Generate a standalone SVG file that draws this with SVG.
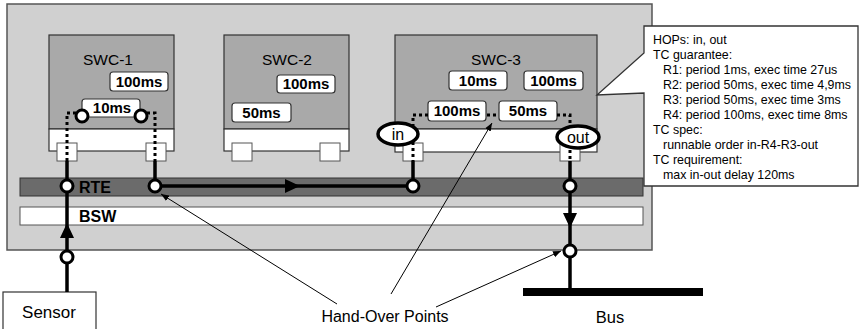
<svg xmlns="http://www.w3.org/2000/svg" width="859" height="329" viewBox="0 0 859 329">
<defs>
<style>
.t{font-family:"Liberation Sans",Arial,sans-serif;fill:#000}
.swc{fill:#a9a9a9;stroke:#333;stroke-width:1.2}
.wh{fill:#fff;stroke:#333;stroke-width:1.2}
.port{fill:#fff;stroke:#555;stroke-width:1}
.rn{fill:#fff;stroke:#333;stroke-width:1.2}
.rl{font-family:"Liberation Sans",Arial,sans-serif;font-weight:bold;font-size:15px;text-anchor:middle}
.dot{fill:none;stroke:#000;stroke-width:3;stroke-dasharray:3 3}
.thick{fill:none;stroke:#000;stroke-width:3.5}
.hop{fill:#fff;stroke:#000;stroke-width:3}
.thin{fill:none;stroke:#000;stroke-width:1}
.ct{font-family:"Liberation Sans",Arial,sans-serif;font-size:12.4px}
</style>
<marker id="ah" viewBox="0 0 10 10" refX="10" refY="5" markerWidth="8" markerHeight="8" orient="auto" markerUnits="userSpaceOnUse"><path d="M0,1 L10,5 L0,9 Z" fill="#000"/></marker>
</defs>
<rect width="859" height="329" fill="#fff"/>
<g id="ecu">
<rect x="7" y="4" width="645" height="246" fill="#d0d0d0" stroke="#555" stroke-width="1.5"/>
<rect x="20" y="178" width="623" height="18" fill="#6b6b6b" stroke="#333" stroke-width="1"/>
<text class="t" x="79" y="193" font-size="16" font-weight="bold">RTE</text>
<rect x="20" y="207" width="623" height="18" fill="#fff" stroke="#555" stroke-width="1"/>
<text class="t" x="79" y="222" font-size="16" font-weight="bold">BSW</text>
</g>
<g id="swc1">
<rect class="swc" x="49" y="35" width="125" height="94"/>
<rect class="wh" x="49" y="129" width="125" height="22"/>
<text class="t" x="108" y="65" font-size="15.5" text-anchor="middle">SWC-1</text>
<rect class="rn" x="110" y="72" width="58" height="19" rx="3"/>
<text class="t rl" x="139" y="87">100ms</text>
<rect class="rn" x="82" y="99" width="58" height="18" rx="3"/>
<text class="t rl" x="112" y="113">10ms</text>
<rect class="port" x="57" y="143" width="20" height="18"/>
<rect class="port" x="146" y="143" width="20" height="18"/>
<path class="dot" d="M76,113 H67 V161"/>
<path class="dot" d="M147,113 H155 V161"/>
<circle class="hop" cx="82" cy="116" r="6"/>
<circle class="hop" cx="141" cy="116" r="6"/>
</g>
<g id="swc2">
<rect class="swc" x="224" y="35" width="125" height="94"/>
<rect class="wh" x="224" y="129" width="125" height="22"/>
<text class="t" x="287" y="65" font-size="15.5" text-anchor="middle">SWC-2</text>
<rect class="rn" x="277" y="75" width="58" height="18" rx="3"/>
<text class="t rl" x="306" y="89">100ms</text>
<rect class="rn" x="232" y="103" width="59" height="19" rx="3"/>
<text class="t rl" x="261.5" y="118">50ms</text>
<rect class="port" x="232" y="143" width="20" height="18"/>
<rect class="port" x="320" y="143" width="20" height="18"/>
</g>
<g id="swc3">
<rect class="swc" x="395" y="35" width="202" height="94"/>
<rect class="wh" x="395" y="129" width="202" height="23"/>
<text class="t" x="496" y="65" font-size="15.5" text-anchor="middle">SWC-3</text>
<rect class="rn" x="449" y="71" width="58" height="19" rx="3"/>
<text class="t rl" x="478" y="86">10ms</text>
<rect class="rn" x="524" y="71" width="59" height="19" rx="3"/>
<text class="t rl" x="553.5" y="86">100ms</text>
<rect class="rn" x="428" y="101" width="58" height="20" rx="3"/>
<text class="t rl" x="457" y="116">100ms</text>
<rect class="rn" x="499" y="101" width="58" height="20" rx="3"/>
<text class="t rl" x="528" y="116">50ms</text>
<rect class="port" x="403" y="143" width="20" height="18"/>
<rect class="port" x="560" y="143" width="20" height="18"/>
<path class="dot" d="M428,115 H413 V161"/>
<path class="dot" d="M487,115 H499"/>
<path class="dot" d="M557,115 H570 V161"/>
<ellipse cx="398" cy="134" rx="20" ry="11" fill="#fff" stroke="#000" stroke-width="3.5"/>
<text class="t" x="398" y="140" font-size="16" text-anchor="middle">in</text>
<ellipse cx="578" cy="137" rx="21" ry="11" fill="#fff" stroke="#000" stroke-width="3.5"/>
<text class="t" x="578" y="143" font-size="16" text-anchor="middle">out</text>
</g>
<g id="sensor">
<rect x="3" y="292" width="93" height="40" fill="#fff" stroke="#333" stroke-width="1.2"/>
<text class="t" x="49" y="318" font-size="17" text-anchor="middle">Sensor</text>
</g>
<g id="bus">
<rect x="523" y="288" width="180" height="8" fill="#000"/>
<text class="t" x="610" y="323" font-size="16.5" text-anchor="middle">Bus</text>
</g>
<g id="callout">
<path d="M644,26 H858 V186 H644 V93 L597,95 L644,53 Z" fill="#fff" stroke="#333" stroke-width="1.3"/>
<text class="t ct" x="653" y="44">HOPs: in, out</text>
<text class="t ct" x="653" y="59">TC guarantee:</text>
<text class="t ct" x="663" y="74">R1: period 1ms, exec time 27us</text>
<text class="t ct" x="663" y="89">R2: period 50ms, exec time 4,9ms</text>
<text class="t ct" x="663" y="104">R3: period 50ms, exec time 3ms</text>
<text class="t ct" x="663" y="119">R4: period 100ms, exec time 8ms</text>
<text class="t ct" x="653" y="134">TC spec:</text>
<text class="t ct" x="663" y="149">runnable order in-R4-R3-out</text>
<text class="t ct" x="653" y="164">TC requirement:</text>
<text class="t ct" x="663" y="179">max in-out delay 120ms</text>
</g>
<g id="connectors">
<path class="thick" d="M67,161 V186"/>
<path class="thick" d="M155,161 V186"/>
<path class="thick" d="M413,161 V186"/>
<path class="thick" d="M570,161 V186"/>
<path class="thick" d="M67,292 V186"/>
<path d="M60,238 L67,223 L74,238 Z" fill="#000"/>
<path class="thick" d="M155,186 H413"/>
<path d="M285,179 L300,186 L285,193 Z" fill="#000"/>
<path class="thick" d="M570,186 V289"/>
<path d="M563,213 L570,228 L577,213 Z" fill="#000"/>
<circle class="hop" cx="67" cy="186" r="6"/>
<circle class="hop" cx="155" cy="186" r="6"/>
<circle class="hop" cx="413" cy="186" r="6"/>
<circle class="hop" cx="570" cy="186" r="6"/>
<circle class="hop" cx="67" cy="257" r="6"/>
<circle class="hop" cx="570" cy="251" r="6"/>
<path class="thin" d="M337,304 L161,194" marker-end="url(#ah)"/>
<path class="thin" d="M391,294 L492,123" marker-end="url(#ah)"/>
<path class="thin" d="M436,307 L561,251" marker-end="url(#ah)"/>
<text class="t" x="385" y="322" font-size="16" text-anchor="middle">Hand-Over Points</text>
</g>
</svg>
